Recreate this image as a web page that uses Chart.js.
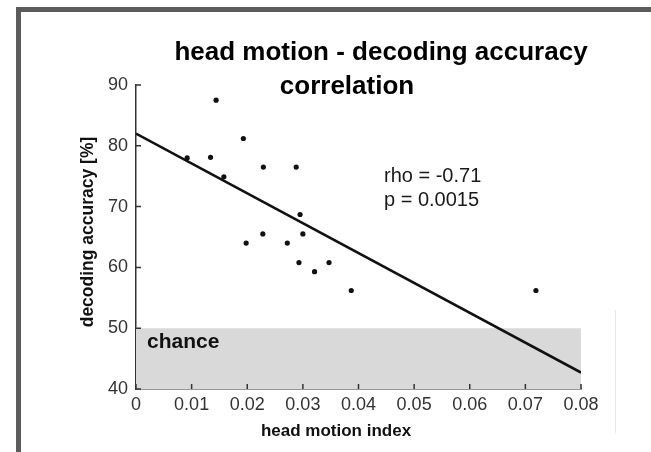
<!DOCTYPE html>
<html>
<head>
<meta charset="utf-8">
<script src="https://cdn.jsdelivr.net/npm/chart.js@4/dist/chart.umd.min.js"></script>
<style>
  body { margin: 0; background: #fff; }
  canvas { display: block; }
</style>
</head>
<body>
<canvas id="corrChart" width="651" height="452"></canvas>
<script>
/* ================= DATA ================= */

const headMotion = [0.0092, 0.0134, 0.0144, 0.0158, 0.0193, 0.0198, 0.0229, 0.0228, 0.0288,
                    0.0272, 0.0295, 0.0300, 0.0293, 0.0321, 0.0347, 0.0387, 0.0719];
const accuracy = [78.0, 78.1, 87.5, 74.9, 81.2, 64.0, 76.5, 65.5, 76.5,
                  64.0, 68.7, 65.5, 60.8, 59.3, 60.8, 56.2, 56.2];

// regression line end points
const fitX = [0, 0.08];
const fitY = [82.0, 42.7];

// chance level band (40 - 50 %)
const chanceX = [0, 0.08];
const chanceY = [50, 50];

const xTicks = [0, 0.01, 0.02, 0.03, 0.04, 0.05, 0.06, 0.07, 0.08];
const xTickLabels = ["0", "0.01", "0.02", "0.03", "0.04", "0.05", "0.06", "0.07", "0.08"];
const yTicks = [40, 50, 60, 70, 80, 90];
const yTickLabels = ["40", "50", "60", "70", "80", "90"];

const FONT = "'Liberation Sans', Arial, sans-serif";

/* ================= HELPERS ================= */

function toPoints(xs, ys) {
  return xs.map((x, i) => ({ x: x, y: ys[i] }));
}

function text(ctx, str, x, y, font, align, color) {
  ctx.font = font;
  ctx.fillStyle = color || "#000";
  ctx.textAlign = align || "left";
  ctx.textBaseline = "middle";
  ctx.fillText(str, x, y);
}

/* ================= PLUGINS ================= */

// white page + grey frame on top / left edge
const framePlugin = {
  id: "frame",
  beforeDraw(chart) {
    const ctx = chart.ctx;
    ctx.save();
    ctx.fillStyle = "#fff";
    ctx.fillRect(0, 0, chart.width, chart.height);
    ctx.fillStyle = "#5b5b5b";
    ctx.fillRect(16, 7, chart.width - 16, 5);
    ctx.fillRect(16, 7, 5, chart.height - 7);
    ctx.strokeStyle = "#e6e6ef";
    ctx.lineWidth = 1;
    ctx.beginPath();
    ctx.moveTo(615.5, 310);
    ctx.lineTo(615.5, 433);
    ctx.stroke();
    ctx.restore();
  }
};

// ticks pointing into the plot, matlab style
const innerTicks = {
  id: "innerTicks",
  afterDraw(chart) {
    const ctx = chart.ctx;
    const xs = chart.scales.x;
    const ys = chart.scales.y;
    const area = chart.chartArea;
    ctx.save();
    ctx.strokeStyle = "#333";
    ctx.lineWidth = 1.5;
    ctx.beginPath();
    xs.ticks.forEach(t => {
      const px = xs.getPixelForValue(t.value);
      ctx.moveTo(px, area.bottom);
      ctx.lineTo(px, area.bottom - 5);
    });
    ys.ticks.forEach(t => {
      const py = ys.getPixelForValue(t.value);
      ctx.moveTo(area.left, py);
      ctx.lineTo(area.left + 5, py);
    });
    ctx.stroke();
    ctx.restore();
  }
};

// titles and annotations
const labelsPlugin = {
  id: "labels",
  afterDraw(chart) {
    const ctx = chart.ctx;
    ctx.save();
    text(ctx, "head motion - decoding accuracy", 381, 53, "bold 26px " + FONT, "center");
    text(ctx, "correlation", 347, 87, "bold 26px " + FONT, "center");

    text(ctx, "head motion index", 336, 431, "bold 17px " + FONT, "center", "#111");

    ctx.save();
    ctx.translate(88, 232);
    ctx.rotate(-Math.PI / 2);
    text(ctx, "decoding accuracy [%]", 0, 0, "bold 17.5px " + FONT, "center", "#111");
    ctx.restore();

    text(ctx, "chance", 147, 342, "bold 21px " + FONT, "left", "#111");
    text(ctx, "rho = -0.71", 384, 176, "20px " + FONT, "left", "#1a1a1a");
    text(ctx, "p = 0.0015", 384, 200, "20px " + FONT, "left", "#1a1a1a");
    ctx.restore();
  }
};

/* ================= CHART ================= */

new Chart(document.getElementById("corrChart"), {
  type: "scatter",
  data: {
    datasets: [
      {
        label: "subjects",
        data: toPoints(headMotion, accuracy),
        pointRadius: 2.6,
        pointBackgroundColor: "#111",
        pointBorderWidth: 0,
        order: 1
      },
      {
        type: "line",
        label: "fit",
        data: toPoints(fitX, fitY),
        borderColor: "#111",
        borderWidth: 2.6,
        pointRadius: 0,
        fill: false,
        order: 2
      },
      {
        type: "line",
        label: "chance",
        data: toPoints(chanceX, chanceY),
        borderWidth: 0,
        pointRadius: 0,
        backgroundColor: "#d9d9d9",
        fill: "start",
        order: 3
      }
    ]
  },
  options: {
    responsive: false,
    animation: false,
    events: [],
    layout: { padding: { left: 0, top: 85, right: 70, bottom: 0 } },
    plugins: {
      legend: { display: false },
      tooltip: { enabled: false }
    },
    scales: {
      x: {
        type: "linear",
        min: 0,
        max: 0.08,
        grid: { display: false, drawTicks: false },
        border: { display: true, color: "#333", width: 1.5 },
        afterBuildTicks: s => { s.ticks = xTicks.map(v => ({ value: v })); },
        afterFit: s => { s.height = 452 - 389; },
        ticks: {
          padding: 5,
          color: "#333",
          font: { family: FONT, size: 18 },
          callback: (v, i) => xTickLabels[i]
        }
      },
      y: {
        type: "linear",
        min: 40,
        max: 90,
        grid: { display: false, drawTicks: false },
        border: { display: true, color: "#333", width: 1.5 },
        afterBuildTicks: s => { s.ticks = yTicks.map(v => ({ value: v })); },
        afterFit: s => { s.width = 136; },
        ticks: {
          padding: 8,
          color: "#333",
          font: { family: FONT, size: 18 },
          callback: (v, i) => yTickLabels[i]
        }
      }
    }
  },
  plugins: [framePlugin, innerTicks, labelsPlugin]
});
</script>
</body>
</html>
